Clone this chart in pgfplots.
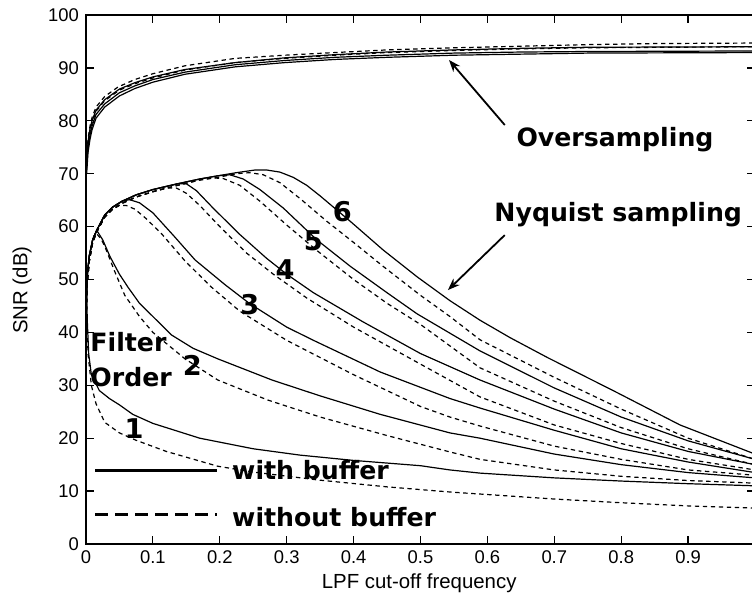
\documentclass[border=0pt]{standalone}
\usepackage{pgfplots}
\pgfplotsset{compat=1.18}
\usetikzlibrary{arrows.meta}
\usepackage{fontspec}
\setmainfont{Liberation Sans}
\newfontfamily\annot{DejaVu Sans}
\newcommand{\af}{\annot\bfseries\fontsize{12.6}{14}\selectfont}
\newcommand{\df}{\annot\bfseries\fontsize{13.6}{15}\selectfont}
\begin{document}
\begin{tikzpicture}
\begin{axis}[
  name=ax,
  scale only axis, width=334.5pt, height=264.5pt,
  xmin=0, xmax=1, ymin=0, ymax=100,
  xtick={0,0.1,0.2,0.3,0.4,0.5,0.6,0.7,0.8,0.9,1},
  xticklabels={0,0.1,0.2,0.3,0.4,0.5,0.6,0.7,0.8,0.9,{}},
  ytick={0,10,20,30,40,50,60,70,80,90,100},
  tick align=inside, major tick length=4pt,
  /pgf/number format/assume math mode=true,
  ticklabel style={font=\fontsize{9.2}{11}\selectfont},
  axis line style={line width=0.6pt},
  every tick/.style={black, line width=0.6pt},
  xlabel={LPF cut-off frequency},
  ylabel={SNR (dB)},
  label style={font=\fontsize{10.2}{12}\selectfont},
  xlabel style={at={(axis description cs:0.498,-0.074)}, anchor=center},
  ylabel style={at={(axis description cs:-0.0957,0.48)}, anchor=center, rotate=0},
  sol/.style={black, line width=0.6pt},
  das/.style={black, line width=0.6pt, dash pattern=on 2.2pt off 1.8pt},
]
% Oversampling curves
\addplot[sol] coordinates {(0.001,70)(0.003,74)(0.006,76.5)(0.009,78.3)(0.015,80.5)(0.028,82.6)(0.05,84.7)(0.073,86.1)(0.1,87.3)(0.148,88.8)(0.223,90.2)(0.297,91.0)(0.372,91.6)(0.45,92.0)(0.55,92.4)(0.65,92.6)(0.75,92.8)(1,92.9)};
\addplot[sol] coordinates {(0.001,71)(0.003,75)(0.006,77.3)(0.009,79)(0.015,81.2)(0.028,83.2)(0.05,85.3)(0.073,86.6)(0.1,87.8)(0.148,89.2)(0.223,90.6)(0.297,91.4)(0.372,92.0)(0.45,92.4)(0.55,92.8)(0.65,93.0)(0.75,93.1)(1,93.2)};
\addplot[sol] coordinates {(0.001,72)(0.003,76)(0.006,78.5)(0.009,80)(0.015,82)(0.028,84)(0.05,86)(0.073,87.2)(0.1,88.3)(0.148,89.7)(0.223,91.0)(0.297,91.9)(0.372,92.5)(0.45,93.0)(0.55,93.4)(0.65,93.7)(0.75,93.9)(1,94.0)};
\addplot[das] coordinates {(0.001,71.5)(0.003,75.5)(0.006,78)(0.009,79.6)(0.015,81.8)(0.028,83.8)(0.05,85.8)(0.073,87.0)(0.1,88.1)(0.148,89.6)(0.223,91.0)(0.297,91.8)(0.372,92.4)(0.45,92.9)(0.55,93.3)(0.65,93.6)(0.75,93.8)(1,94.0)};
\addplot[das] coordinates {(0.001,72.5)(0.003,76.5)(0.006,79)(0.009,80.6)(0.015,82.6)(0.028,84.6)(0.048,86.4)(0.073,87.8)(0.1,88.9)(0.148,90.4)(0.223,91.8)(0.297,92.4)(0.372,92.9)(0.45,93.4)(0.55,93.8)(0.65,94.1)(0.75,94.4)(0.85,94.6)(1,94.7)};
% Nyquist, order 1
\addplot[sol] coordinates {(0.0005,50)(0.002,42)(0.004,36)(0.008,32)(0.02,29)(0.035,27.5)(0.05,26.3)(0.07,24.5)(0.1,22.8)(0.17,20)(0.25,18)(0.32,16.8)(0.4,15.8)(0.5,14.8)(0.544,14)(0.589,13.4)(0.7,12.5)(0.8,11.9)(0.9,11.4)(1,11)};
\addplot[das] coordinates {(0.0005,48)(0.003,36)(0.008,30)(0.015,26.5)(0.028,23)(0.05,21)(0.075,19.6)(0.12,17.5)(0.197,14.7)(0.25,13.6)(0.347,12.1)(0.45,10.8)(0.547,9.8)(0.7,8.5)(0.8,7.8)(0.9,7.2)(1,6.8)};
% order 2
\addplot[sol] coordinates {(0.0005,46)(0.002,51)(0.005,54.5)(0.01,57.5)(0.016,59.3)(0.025,57.5)(0.036,54.3)(0.05,51)(0.063,48.5)(0.08,45.5)(0.1,43)(0.128,39.5)(0.16,37)(0.197,35)(0.278,31)(0.35,28)(0.44,24.5)(0.544,21)(0.589,20)(0.7,17)(0.8,15)(0.9,13.5)(1,12.5)};
\addplot[das] coordinates {(0.0005,44)(0.002,50)(0.005,54)(0.009,57)(0.012,58.3)(0.016,58.6)(0.022,57.8)(0.028,56.3)(0.043,51.5)(0.058,47)(0.08,43)(0.1,40)(0.148,35)(0.197,31)(0.272,27.2)(0.35,24)(0.45,20.5)(0.544,17.4)(0.589,16)(0.7,14)(0.8,12.8)(0.9,12)(1,11.5)};
% order 3
\addplot[sol] coordinates {(0.0005,46)(0.002,51)(0.005,54.5)(0.01,57.5)(0.016,59.3)(0.028,62.2)(0.04,63.7)(0.054,64.8)(0.065,65.1)(0.08,64.5)(0.1,62.6)(0.133,58)(0.163,53.7)(0.208,49)(0.244,45.5)(0.3,41)(0.34,38.5)(0.44,32.5)(0.544,27.5)(0.589,25.7)(0.7,21.5)(0.8,18)(0.9,15.5)(1,13.5)};
\addplot[das] coordinates {(0.0005,44)(0.002,49.5)(0.005,53.5)(0.01,57)(0.016,59)(0.028,61.8)(0.04,63.3)(0.05,64)(0.06,64)(0.073,63.3)(0.09,61.5)(0.114,58.5)(0.148,53.5)(0.188,48.5)(0.23,44)(0.3,38.5)(0.4,32)(0.5,26)(0.544,24)(0.589,22.3)(0.7,18.5)(0.8,16)(0.9,14)(1,13)};
% order 4
\addplot[sol] coordinates {(0.0005,46)(0.002,51)(0.005,54.5)(0.01,57.5)(0.016,59.3)(0.028,62.2)(0.04,63.7)(0.054,64.8)(0.075,66)(0.1,67)(0.137,68.1)(0.15,68.1)(0.165,66.8)(0.19,63.5)(0.23,58.5)(0.27,54)(0.3,51)(0.34,47.5)(0.414,42)(0.5,36)(0.589,31)(0.7,25.5)(0.8,21)(0.9,17.5)(1,15)};
\addplot[das] coordinates {(0.0005,44)(0.002,49.5)(0.005,53.5)(0.01,57)(0.016,59)(0.028,61.8)(0.04,63.3)(0.054,64.4)(0.075,65.6)(0.1,66.6)(0.12,67.3)(0.135,67.3)(0.15,66.3)(0.17,64)(0.2,60)(0.24,55)(0.28,51)(0.33,46.5)(0.4,41)(0.5,34)(0.589,27.8)(0.7,22.5)(0.8,19)(0.9,16)(1,14)};
% order 5
\addplot[sol] coordinates {(0.0005,46)(0.002,51)(0.005,54.5)(0.01,57.5)(0.016,59.3)(0.028,62.2)(0.04,63.7)(0.054,64.8)(0.075,66)(0.1,67)(0.137,68.1)(0.17,69)(0.197,69.6)(0.215,69.8)(0.235,69)(0.26,67)(0.295,63.5)(0.345,57.5)(0.395,52.5)(0.45,47.5)(0.495,43.5)(0.589,36.5)(0.7,29.5)(0.8,24)(0.9,19.5)(1,16)};
\addplot[das] coordinates {(0.0005,44)(0.002,49.5)(0.005,53.5)(0.01,57)(0.016,59)(0.028,61.8)(0.04,63.3)(0.054,64.4)(0.075,65.6)(0.1,66.6)(0.137,67.8)(0.17,68.8)(0.19,69.2)(0.205,69.1)(0.23,67.8)(0.26,64.8)(0.3,60.3)(0.345,55.5)(0.4,50)(0.45,45.5)(0.5,41.5)(0.589,33.3)(0.7,27)(0.8,22)(0.9,18)(1,15)};
% order 6
\addplot[sol] coordinates {(0.0005,46)(0.002,51)(0.005,54.5)(0.01,57.5)(0.016,59.3)(0.028,62.2)(0.04,63.7)(0.054,64.8)(0.075,66)(0.1,67)(0.137,68.1)(0.17,69)(0.197,69.6)(0.225,70.2)(0.253,70.7)(0.27,70.7)(0.29,70.3)(0.31,69.3)(0.33,67.8)(0.35,65.8)(0.395,61)(0.444,55.6)(0.495,50.5)(0.544,46)(0.589,42.3)(0.634,39)(0.689,35.3)(0.788,29)(0.888,22.5)(1,17)};
\addplot[das] coordinates {(0.0005,44)(0.002,49.5)(0.005,53.5)(0.01,57)(0.016,59)(0.028,61.8)(0.04,63.3)(0.054,64.4)(0.075,65.6)(0.1,66.6)(0.137,67.8)(0.17,68.8)(0.197,69.3)(0.225,70)(0.245,70.2)(0.265,69.8)(0.29,68.3)(0.32,65.3)(0.36,61)(0.4,57)(0.444,52.5)(0.5,47)(0.544,43)(0.589,38.6)(0.7,31.5)(0.8,25.5)(0.9,20)(1,16)};
% legend lines
\addplot[black, line width=1.5pt] coordinates {(0.0135,13.8)(0.196,13.8)};
\addplot[black, line width=1.5pt, dash pattern=on 6.5pt off 3.5pt] coordinates {(0.0135,5.5)(0.196,5.5)};
% annotations
\node[font=\af, anchor=base west, inner sep=0] at (axis cs:0.643,75.1) {Oversampling};
\node[font=\af, anchor=base west, inner sep=0] at (axis cs:0.610,60.9) {Nyquist sampling};
\draw[black, line width=0.9pt, -{Stealth[length=6pt,width=4.5pt]}] (axis cs:0.626,79.2) -- (axis cs:0.5426,91.5);
\draw[black, line width=0.9pt, -{Stealth[length=6pt,width=4.5pt]}] (axis cs:0.626,58.4) -- (axis cs:0.541,48.0);
\node[font=\df, inner sep=0] at (axis cs:0.383,62.8) {6};
\node[font=\df, inner sep=0] at (axis cs:0.340,57.3) {5};
\node[font=\df, inner sep=0] at (axis cs:0.2975,51.8) {4};
\node[font=\df, inner sep=0] at (axis cs:0.245,45.2) {3};
\node[font=\df, inner sep=0] at (axis cs:0.159,33.8) {2};
\node[font=\df, inner sep=0] at (axis cs:0.0718,21.9) {1};
\node[font=\af, anchor=west, inner sep=0] at (axis cs:0.006,38.2) {Filter};
\node[font=\af, anchor=west, inner sep=0] at (axis cs:0.006,31.6) {Order};
\node[font=\af, anchor=west, inner sep=0] at (axis cs:0.218,14) {with buffer};
\node[font=\af, anchor=west, inner sep=0] at (axis cs:0.218,5.1) {without buffer};
\end{axis}
\pgfresetboundingbox
\path[use as bounding box] (ax.south west) ++(-43pt,-28.5pt) rectangle ++(376pt,300.5pt);
\end{tikzpicture}
\end{document}
